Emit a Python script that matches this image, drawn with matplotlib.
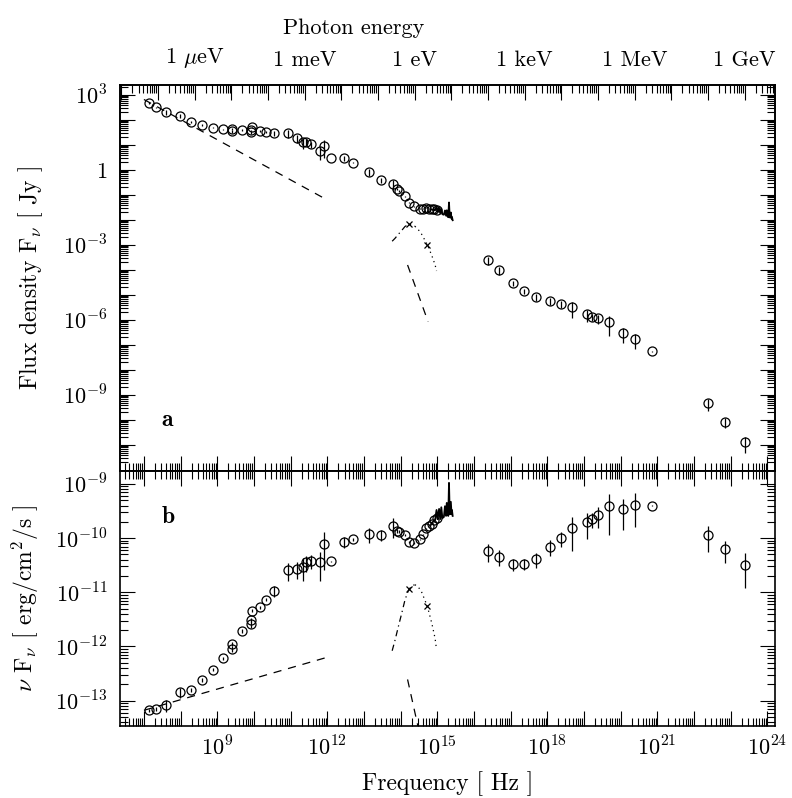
import numpy as np
import matplotlib
matplotlib.use('Agg')
import matplotlib.pyplot as plt
from matplotlib.ticker import FixedLocator, FuncFormatter, NullFormatter

plt.rcParams['font.family'] = 'cmr10'
plt.rcParams['mathtext.fontset'] = 'cm'
plt.rcParams['axes.formatter.use_mathtext'] = True

H_EV = 4.135667e-15  # eV s, photon energy = h nu

# photometric points: log10 frequency [Hz], log10 nu F_nu [erg/cm2/s], relative error
log_nu = [7.14, 7.34, 7.59, 7.98, 8.28, 8.59, 8.88, 9.16, 9.41, 9.41, 9.68, 9.91,
          9.91, 9.95, 10.16, 10.34, 10.55, 10.94, 11.17, 11.35, 11.42, 11.56, 11.80,
          11.92, 12.09, 12.46, 12.69, 13.15, 13.46, 13.78, 13.89, 13.96, 14.12, 14.24,
          14.36, 14.53, 14.62, 14.69, 14.78, 14.85, 14.91, 14.98,
          16.37, 16.68, 17.06, 17.37, 17.68, 18.07, 18.37, 18.68, 19.07, 19.23, 19.37,
          19.68, 20.07, 20.39, 20.86, 22.37, 22.86, 23.39]
log_nufnu = [-13.18, -13.16, -13.09, -12.85, -12.80, -12.62, -12.43, -12.22, -12.04,
             -11.95, -11.71, -11.59, -11.51, -11.34, -11.28, -11.14, -10.97, -10.59,
             -10.57, -10.53, -10.45, -10.42, -10.45, -10.11, -10.43, -10.07, -10.02,
             -9.93, -9.94, -9.78, -9.87, -9.88, -9.94, -10.07, -10.09, -10.02, -9.93,
             -9.82, -9.78, -9.73, -9.66, -9.63,
             -10.24, -10.34, -10.48, -10.48, -10.39, -10.16, -10.00, -9.82, -9.71, -9.65,
             -9.57, -9.41, -9.47, -9.38, -9.40, -9.95, -10.21, -10.49]
rel_err = [0.08, 0.08, 0.24, 0.20, 0.08, 0.08, 0.06, 0.08, 0.14, 0.08, 0.08, 0.14,
           0.08, 0.06, 0.06, 0.06, 0.24, 0.37, 0.34, 0.46, 0.34, 0.28, 0.54,
           0.67, 0.03, 0.22, 0.06, 0.32, 0.24, 0.40, 0.08, 0.05, 0.04, 0.03,
           0.03, 0.03, 0.03, 0.03, 0.03, 0.03, 0.03, 0.03,
           0.36, 0.34, 0.24, 0.23, 0.31, 0.33, 0.30, 0.61, 0.51, 0.30, 0.42,
           0.71, 0.59, 0.61, 0.03, 0.51, 0.43, 0.63]

# UV spectrum
spec_log_nu = [14.82, 14.88, 14.94, 14.98, 15.01, 15.05, 15.08, 15.11, 15.14, 15.18,
               15.21, 15.24, 15.26, 15.28, 15.30, 15.32, 15.34, 15.37, 15.39, 15.40, 15.42]
spec_log_nufnu = [-9.76, -9.70, -9.67, -9.48, -9.65, -9.46, -9.65, -9.43, -9.63, -9.61,
                  -9.41, -9.59, -9.35, -9.57, -9.59, -8.98, -9.56, -9.33, -9.56, -9.48, -9.59]

# big blue bump curve (rising part dash-dot, falling part dotted)
bump_rise_log_nu = [13.77, 13.85, 13.94, 14.03, 14.12, 14.21, 14.30, 14.39]
bump_rise_log_nufnu = [-12.08, -11.88, -11.63, -11.39, -11.14, -10.97, -10.88, -10.86]
bump_fall_log_nu = [14.39, 14.48, 14.57, 14.73, 14.85, 14.94, 14.98]
bump_fall_log_nufnu = [-10.86, -10.90, -10.99, -11.26, -11.57, -11.85, -12.06]
cross_log_nu = [14.24, 14.73]
cross_log_nufnu = [-10.94, -11.26]

# power-law model lines
radio_pl_log_nu = [7.0, 12.0]
radio_pl_log_nufnu = [-13.18, -12.20]
steep_log_nu = [14.19, 14.75]
steep_log_nufnu = [-12.61, -14.32]

TICK_FS = 16
LABEL_FS = 17


def to_jy(lnu, lnufnu):
    nu = 10.0 ** np.asarray(lnu)
    return nu, 10.0 ** np.asarray(lnufnu) / nu * 1e23


def nufnu_conv(lnu, lnufnu):
    return 10.0 ** np.asarray(lnu), 10.0 ** np.asarray(lnufnu)


def decades(lo, hi):
    return [10.0 ** k for k in range(lo, hi + 1)]


def minors(lo, hi, vmin, vmax):
    return [m * 10.0 ** k for k in range(lo, hi + 1) for m in range(2, 10)
            if vmin <= m * 10.0 ** k <= vmax]


nu_lo, nu_hi = 10 ** 6.347, 10 ** 24.21
fa_lo, fa_hi = 10 ** -12.04, 10 ** 3.4
fb_lo, fb_hi = 10 ** -13.47, 10 ** -8.76


def style(ax):
    ax.set_xscale('log')
    ax.set_yscale('log')
    ax.tick_params(which='both', direction='in', top=True, right=True, width=0.8,
                   labelsize=TICK_FS)
    ax.tick_params(which='major', length=11)
    ax.tick_params(which='minor', length=5.5)
    for s in ax.spines.values():
        s.set_linewidth(1.2)
    ax.xaxis.set_major_locator(FixedLocator(decades(7, 24)))
    ax.xaxis.set_minor_locator(FixedLocator(minors(6, 24, nu_lo, nu_hi)))
    ax.xaxis.set_minor_formatter(NullFormatter())
    ax.yaxis.set_minor_formatter(NullFormatter())


def draw(ax, conv):
    kw = dict(color='k', lw=0.9)
    x, y = conv(radio_pl_log_nu, radio_pl_log_nufnu)
    ax.plot(x, y, dashes=(6.5, 5.5), **kw)
    x, y = conv(steep_log_nu, steep_log_nufnu)
    ax.plot(x, y, dashes=(6.5, 5.5), **kw)
    x, y = conv(bump_rise_log_nu, bump_rise_log_nufnu)
    ax.plot(x, y, dashes=(5, 3, 1, 3), **kw)
    x, y = conv(bump_fall_log_nu, bump_fall_log_nufnu)
    ax.plot(x, y, dashes=(1, 3), **kw)
    x, y = conv(cross_log_nu, cross_log_nufnu)
    ax.plot(x, y, 'x', color='k', ms=5, mew=0.9)
    x, y = conv(spec_log_nu, spec_log_nufnu)
    ax.plot(x, y, color='k', lw=1.3)
    x, y = conv(log_nu, log_nufnu)
    ax.errorbar(x, y, yerr=np.asarray(rel_err) * y, fmt='o', mfc='none', mec='k',
                ecolor='k', ms=6.5, mew=0.9, elinewidth=0.9, capsize=0)


fig = plt.figure(figsize=(7.92, 7.98), dpi=100)
ax_a = fig.add_axes([0.1515, 0.4098, 0.8270, 0.4837])
ax_b = fig.add_axes([0.1515, 0.0902, 0.8270, 0.3196])

# panel a: flux density
style(ax_a)
draw(ax_a, to_jy)
ax_a.set_xlim(nu_lo, nu_hi)
ax_a.set_ylim(fa_lo, fa_hi)
ax_a.yaxis.set_major_locator(FixedLocator(decades(-11, 3)))
ax_a.yaxis.set_minor_locator(FixedLocator(minors(-13, 3, fa_lo, fa_hi)))


def fmt_a(v, pos):
    k = int(round(np.log10(v)))
    if k % 3 or k < -9:
        return ''
    return '1' if k == 0 else r'$10^{%d}$' % k


ax_a.yaxis.set_major_formatter(FuncFormatter(fmt_a))
ax_a.tick_params(axis='y', pad=9)
ax_a.tick_params(labelbottom=False, top=False)
ax_a.set_ylabel(r'Flux density F$_\nu$ [ Jy ]', fontsize=LABEL_FS, va='center')
ax_a.yaxis.set_label_coords(-0.137, 0.5)
ax_a.text(0.073, 0.132, r'$\mathbf{a}$', transform=ax_a.transAxes, fontsize=17,
          ha='center', va='center')

# photon energy axis on top
e_lo, e_hi = nu_lo * H_EV, nu_hi * H_EV
ax_e = ax_a.twiny()
ax_e.set_xscale('log')
ax_e.set_xlim(e_lo, e_hi)
ax_e.xaxis.set_major_locator(FixedLocator(decades(-8, 9)))
ax_e.xaxis.set_minor_locator(FixedLocator(minors(-9, 9, e_lo, e_hi)))
ax_e.xaxis.set_minor_formatter(NullFormatter())
e_names = {-6: r'1 $\mu$eV', -3: '1 meV', 0: '1 eV', 3: '1 keV', 6: '1 MeV', 9: '1 GeV'}
ax_e.xaxis.set_major_formatter(
    FuncFormatter(lambda v, pos: e_names.get(int(round(np.log10(v))), '')))
ax_e.tick_params(which='both', direction='in', width=0.8, labelsize=TICK_FS, pad=11)
ax_e.tick_params(which='major', length=11)
ax_e.tick_params(which='minor', length=5.5)
for s in ax_e.spines.values():
    s.set_linewidth(1.2)
ax_e.set_xlabel('Photon energy', fontsize=16, va='center')
ax_e.xaxis.set_label_coords(0.357, 1.147)

# panel b: nu F_nu
style(ax_b)
draw(ax_b, nufnu_conv)
ax_b.set_xlim(nu_lo, nu_hi)
ax_b.set_ylim(fb_lo, fb_hi)
ax_b.yaxis.set_major_locator(FixedLocator(decades(-13, -9)))
ax_b.yaxis.set_minor_locator(FixedLocator(minors(-14, -9, fb_lo, fb_hi)))
ax_b.yaxis.set_major_formatter(
    FuncFormatter(lambda v, pos: r'$10^{%d}$' % int(round(np.log10(v)))))
ax_b.xaxis.set_major_formatter(
    FuncFormatter(lambda v, pos: '' if int(round(np.log10(v))) % 3
                  else r'$10^{%d}$' % int(round(np.log10(v)))))
ax_b.tick_params(axis='y', pad=9)
ax_b.tick_params(axis='x', pad=7)
ax_b.set_ylabel(r'$\nu$ F$_\nu$ [ erg/cm$^2$/s ]', fontsize=LABEL_FS, va='center')
ax_b.yaxis.set_label_coords(-0.145, 0.5)
ax_b.set_xlabel('Frequency [ Hz ]', fontsize=LABEL_FS, va='center')
ax_b.xaxis.set_label_coords(0.5, -0.227)
ax_b.text(0.073, 0.82, r'$\mathbf{b}$', transform=ax_b.transAxes, fontsize=17,
          ha='center', va='center')

fig.savefig('out.png', dpi=100)
